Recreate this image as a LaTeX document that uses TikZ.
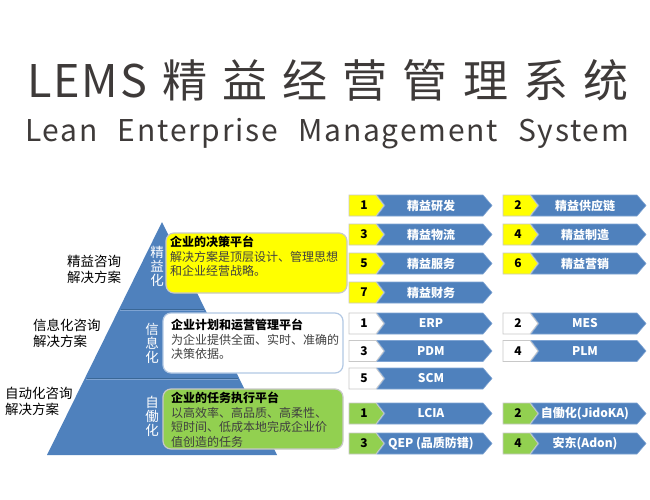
\documentclass[tikz,border=0pt]{standalone}
\usepackage{fontspec}
\setmainfont{Noto Sans CJK SC}
\newfontfamily\titlefont[LetterSpace=33.8]{Noto Sans CJK SC}
\newfontfamily\lemsfont[LetterSpace=4]{Noto Sans CJK SC}
\newfontfamily\subfont[LetterSpace=6]{Noto Sans CJK SC}
\definecolor{titlec}{HTML}{3E3A39}
\definecolor{pblue}{HTML}{4F81BD}
\definecolor{pdark}{HTML}{3A6796}
\definecolor{plight}{HTML}{7EA3D2}
\definecolor{ayellow}{HTML}{FFFF00}
\definecolor{agreen}{HTML}{92D050}
\definecolor{aedge}{HTML}{C8C8C8}
\definecolor{bodyc}{HTML}{404040}
\tikzset{
  numbox/.style={draw=aedge, line width=0.8pt, line join=miter},
  bluearrow/.style={fill=pblue, draw=plight, line width=0.6pt},
  numtxt/.style={font=\bfseries\fontsize{12}{14}\selectfont, text=black, inner sep=0pt},
  arrtxt/.style={font=\bfseries\fontsize{12}{14}\selectfont, text=white, inner sep=0pt},
  sidelabel/.style={font=\fontsize{13.5}{16}\selectfont, align=left, inner sep=0pt, anchor=north west, text=black},
  pyrlabel/.style={font=\fontsize{13.5}{14}\selectfont, align=center, inner sep=0pt, text=white},
  infobox/.style={rounded corners=8pt, line width=1.2pt},
  boxtxt/.style={font=\fontsize{12}{14.5}\selectfont, align=left, inner sep=0pt, anchor=north west, text=bodyc},
}
% #1 name, #2 x0, #3 yc, #4 fill, #5 number, #6 text
\newcommand{\arrowitem}[6]{%
  \fill[#4] (#2,#3-10.5) -- (#2+27,#3-10.5) -- (#2+35,#3) -- (#2+27,#3+10.5) -- (#2,#3+10.5) -- cycle;
  \draw[numbox] (#2,#3-10.5) -- (#2+27,#3-10.5) -- (#2+35,#3) -- (#2+27,#3+10.5) -- (#2,#3+10.5) -- cycle;
  \draw[bluearrow] (#2+28,#3-10.5) -- (#2+134,#3-10.5) -- (#2+143,#3) -- (#2+134,#3+10.5) -- (#2+28,#3+10.5) -- (#2+36,#3) -- cycle;
  \node[numtxt] (#1n) at (#2+15,#3) {#5};
  \node[arrtxt] (#1t) at (#2+82,#3) {#6};
}
\begin{document}
\begin{tikzpicture}[x=1pt,y=-1pt]
\useasboundingbox (0,0) rectangle (650,500);
\fill[white] (0,0) rectangle (650,500);
% titles
\node[anchor=base west, inner sep=0pt, text=titlec, font=\lemsfont\fontsize{45}{50}\selectfont] (lems) at (27,98) {LEMS};
\node[anchor=base west, inner sep=0pt, text=titlec, font=\titlefont\fontsize{45}{50}\selectfont] (cjktitle) at (162,98) {精益经营管理系统};
\node[anchor=base west, inner sep=0pt, text=titlec, font=\subfont\fontsize{30}{34}\selectfont] (subtitle) at (25,141) {Lean\hspace{20pt}Enterprise\hspace{20pt}Management\hspace{20pt}System};
% pyramid
\fill[pblue] (162,222) -- (277,455) -- (47,455) -- cycle;
\draw[pdark, line width=1pt] (120.5,309) -- (203.5,309);
\draw[plight, line width=0.6pt] (120,310.2) -- (204,310.2);
\draw[pdark, line width=1pt] (86.5,378) -- (237.5,378);
\draw[plight, line width=0.6pt] (86,379.2) -- (238,379.2);
\node[pyrlabel] (p1) at (157,266) {精\\益\\化};
\node[pyrlabel] (p2) at (152,343) {信\\息\\化};
\node[pyrlabel] (p3) at (152,416) {自\\働\\化};
% side labels
\node[sidelabel] (s1) at (67,255) {精益咨询\\解决方案};
\node[sidelabel] (s2) at (33,319) {信息化咨询\\解决方案};
\node[sidelabel] (s3) at (5,387) {自动化咨询\\解决方案};
% info boxes
\draw[infobox, fill=ayellow, draw=aedge] (166,233) rectangle (347,293);
\node[boxtxt] (b1) at (170,236) {\textcolor{black}{\bfseries 企业的决策平台}\\解决方案是顶层设计、管理思想\\和企业经营战略。};
\draw[infobox, fill=white, draw=plight!60] (163,313) rectangle (343,373);
\node[boxtxt] (b2) at (171,319) {\textcolor{black}{\bfseries 企业计划和运营管理平台}\\为企业提供全面、实时、准确的\\决策依据。};
\draw[infobox, fill=agreen, draw=aedge] (163,389) rectangle (343,449);
\node[boxtxt] (b3) at (171,392) {\textcolor{black}{\bfseries 企业的任务执行平台}\\以高效率、高品质、高柔性、\\短时间、低成本地完成企业价\\值创造的任务};
% arrows
\arrowitem{y1}{349}{205.5}{ayellow}{1}{精益研发}
\arrowitem{y2}{503}{205.5}{ayellow}{2}{精益供应链}
\arrowitem{y3}{349}{234.5}{ayellow}{3}{精益物流}
\arrowitem{y4}{503}{234.5}{ayellow}{4}{精益制造}
\arrowitem{y5}{349}{263.5}{ayellow}{5}{精益服务}
\arrowitem{y6}{503}{263.5}{ayellow}{6}{精益营销}
\arrowitem{y7}{349}{292.5}{ayellow}{7}{精益财务}
\arrowitem{w1}{349}{323.5}{white}{1}{ERP}
\arrowitem{w2}{503}{323.5}{white}{2}{MES}
\arrowitem{w3}{349}{351}{white}{3}{PDM}
\arrowitem{w4}{503}{351}{white}{4}{PLM}
\arrowitem{w5}{349}{378.5}{white}{5}{SCM}
\arrowitem{g1}{349}{413.5}{agreen}{1}{LCIA}
\arrowitem{g2}{503}{413.5}{agreen}{2}{自働化(JidoKA)}
\arrowitem{g3}{349}{443.5}{agreen}{3}{QEP (品质防错)}
\arrowitem{g4}{503}{443.5}{agreen}{4}{安东(Adon)}
\end{tikzpicture}
\end{document}
